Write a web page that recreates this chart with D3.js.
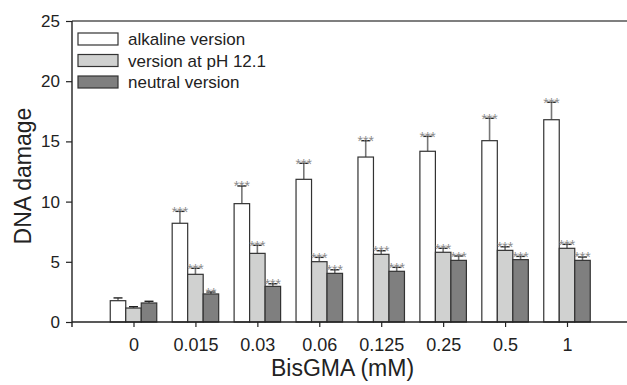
<!DOCTYPE html>
<html>
<head>
<meta charset="utf-8">
<script src="https://cdn.jsdelivr.net/npm/d3@7/dist/d3.min.js"></script>
<style>
  html, body { margin: 0; padding: 0; background: #fff; }
  svg { display: block; font-family: "Liberation Sans", Arial, Helvetica, sans-serif; }
</style>
</head>
<body>
<svg id="chart" width="627" height="385"></svg>
<script>
// BisGMA concentrations (mM)
const categories = ["0", "0.015", "0.03", "0.06", "0.125", "0.25", "0.5", "1"];

// Mean DNA damage and upper error (SEM) for each comet assay version
const alkaline    = [1.77, 8.2, 9.83, 11.85, 13.7, 14.18, 15.06, 16.8];
const alkalineErr = [0.23, 0.99, 1.47, 1.33, 1.36, 1.24, 1.86, 1.45];
const ph121       = [1.16, 3.96, 5.7, 5.01, 5.62, 5.79, 5.95, 6.12];
const ph121Err    = [0.11, 0.5, 0.67, 0.36, 0.3, 0.33, 0.3, 0.33];
const neutral     = [1.58, 2.33, 2.96, 4.04, 4.21, 5.12, 5.18, 5.12];
const neutralErr  = [0.14, 0.16, 0.22, 0.3, 0.33, 0.36, 0.27, 0.28];

// Significance markers versus the untreated control
const alkalineSig = ["", "***", "***", "***", "***", "***", "***", "***"];
const ph121Sig    = ["", "***", "***", "***", "***", "***", "***", "***"];
const neutralSig  = ["", "**", "***", "***", "***", "***", "***", "***"];

const seriesNames = ["alkaline version", "version at pH 12.1", "neutral version"];
const yTicks = [0, 5, 10, 15, 20, 25];

const series = [
  { name: seriesNames[0], values: alkaline, err: alkalineErr, sig: alkalineSig, fill: "#ffffff" },
  { name: seriesNames[1], values: ph121,    err: ph121Err,    sig: ph121Sig,    fill: "#d0d1d0" },
  { name: seriesNames[2], values: neutral,  err: neutralErr,  sig: neutralSig,  fill: "#7f7f7f" }
];

const svg = d3.select("#chart");
const plotLeft = 72, plotRight = 627, plotTop = 21, plotBottom = 322;

const y = d3.scaleLinear().domain([0, 25]).range([plotBottom, plotTop]);
const x = d3.scalePoint().domain(categories).range([133.5, 567]);
const barW = 15.5;
const offset = d3.scaleLinear().domain([0, 2]).range([-barW, barW]);

// Top border of the frame
svg.append("line").attr("x1", plotLeft).attr("x2", plotRight).attr("y1", plotTop).attr("y2", plotTop)
  .attr("stroke", "#555").attr("stroke-width", 1.5);

// Bars, error bars and significance stars
series.forEach((s, si) => {
  const g = svg.append("g");
  categories.forEach((c, i) => {
    const cx = x(c) + offset(si);
    const v = s.values[i];
    const hi = v + s.err[i];
    // error bar stem and cap
    g.append("line").attr("x1", cx).attr("x2", cx).attr("y1", y(v)).attr("y2", y(hi))
      .attr("stroke", "#777").attr("stroke-width", 1.6);
    g.append("line").attr("x1", cx - 4.5).attr("x2", cx + 4.5).attr("y1", y(hi)).attr("y2", y(hi))
      .attr("stroke", "#222").attr("stroke-width", 1.4);
    g.append("rect")
      .attr("x", cx - barW / 2).attr("y", y(v))
      .attr("width", barW).attr("height", y(0) - y(v))
      .attr("fill", s.fill).attr("stroke", "#333").attr("stroke-width", 1.2);
    if (s.sig[i]) {
      g.append("text").attr("x", cx).attr("y", y(hi) + 5.5)
        .attr("text-anchor", "middle").attr("font-size", 14).attr("fill", "#8a8a8a")
        .text(s.sig[i]);
    }
  });
});

// Y axis
const yAxis = svg.append("g").attr("transform", `translate(${plotLeft},0)`)
  .call(d3.axisLeft(y).tickValues(yTicks).tickSize(6).tickPadding(6));
yAxis.select(".domain").remove();
yAxis.selectAll(".tick line").attr("stroke", "#222").attr("stroke-width", 1.2);
yAxis.selectAll(".tick text").attr("font-size", 17).attr("fill", "#222")
  .attr("font-family", "Liberation Sans, Arial, sans-serif");

// X axis
const xAxis = svg.append("g").attr("transform", `translate(0,${plotBottom})`)
  .call(d3.axisBottom(x).tickSize(5).tickPadding(11).tickSizeOuter(0));
xAxis.select(".domain").remove();
xAxis.selectAll(".tick line").attr("stroke", "#222").attr("stroke-width", 1.2);
xAxis.selectAll(".tick text").attr("font-size", 18).attr("fill", "#222")
  .attr("font-family", "Liberation Sans, Arial, sans-serif");

svg.append("line").attr("x1", plotLeft).attr("x2", plotRight).attr("y1", plotBottom).attr("y2", plotBottom)
  .attr("stroke", "#222").attr("stroke-width", 1.4);
svg.append("line").attr("x1", plotLeft).attr("x2", plotLeft).attr("y1", plotTop).attr("y2", plotBottom + 5)
  .attr("stroke", "#222").attr("stroke-width", 1.4);

// Axis titles
svg.append("text").attr("x", 342.5).attr("y", 376).attr("text-anchor", "middle")
  .attr("font-size", 23).attr("fill", "#222").text("BisGMA (mM)");
svg.append("text").attr("transform", "translate(31,176) rotate(-90)")
  .attr("text-anchor", "middle").attr("font-size", 23).attr("fill", "#222").text("DNA damage");

// Legend
const legend = svg.append("g");
series.forEach((s, i) => {
  const yy = 33 + i * 21.5;
  legend.append("rect").attr("x", 78).attr("y", yy).attr("width", 40).attr("height", 12)
    .attr("fill", s.fill).attr("stroke", "#333").attr("stroke-width", 1.2);
  legend.append("text").attr("x", 128).attr("y", yy + 12).attr("font-size", 17)
    .attr("fill", "#222").text(s.name);
});
</script>
</body>
</html>
